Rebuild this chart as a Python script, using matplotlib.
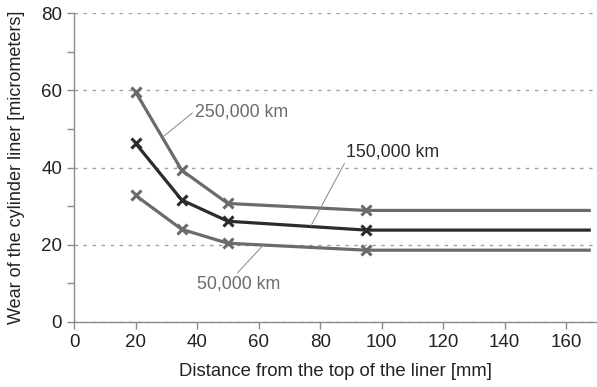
import numpy as np
import matplotlib.pyplot as plt

plt.rcParams['font.family'] = ['Liberation Sans', 'DejaVu Sans']

# distance from the top of the liner [mm]
distance = [20, 35, 50, 95]
line_end = 168

# wear [micrometers] for each mileage
wear_250k = [59.6, 39.3, 30.7, 28.9]
wear_150k = [46.3, 31.6, 26.1, 23.8]
wear_50k = [32.8, 24.0, 20.4, 18.6]

labels = ['250,000 km', '150,000 km', '50,000 km']
colors = ['#6b6b6b', '#2b2b2b', '#6b6b6b']

fig = plt.figure(figsize=(5.97, 3.87), dpi=100)
ax = fig.add_axes([0.124, 0.168, 0.876, 0.798])

for wear, col in zip([wear_250k, wear_150k, wear_50k], colors):
    # flat continuation to the end of the liner
    ax.plot(distance + [line_end], wear + [wear[-1]], color=col, lw=2.3,
            solid_capstyle='butt', zorder=3)
    ax.plot(distance, wear, ls='none', marker='x', ms=7, mew=2.2,
            color=col, zorder=4)

# labels with thin leader lines
leader = dict(arrowstyle='-', color='#888888', lw=0.7, shrinkA=0, shrinkB=0)
ax.annotate(labels[0], xy=(28.7, 47.8), xytext=(54.5, 54.3), color='#6b6b6b',
            fontsize=12.8, va='center', ha='center',
            arrowprops=dict(leader, relpos=(0, 0.6)))
ax.annotate(labels[1], xy=(77, 24.9), xytext=(103.5, 44), color='#2b2b2b',
            fontsize=12.8, va='center', ha='center',
            arrowprops=dict(leader, relpos=(0.02, 0.2)))
ax.annotate(labels[2], xy=(61.6, 20), xytext=(53.4, 9.8), color='#6b6b6b',
            fontsize=12.8, va='center', ha='center',
            arrowprops=dict(leader, relpos=(0.45, 0.95)))

ax.set_xlim(0, 170)
ax.set_ylim(0, 80)
ax.set_xticks(np.arange(0, 161, 20))
ax.set_yticks(np.arange(0, 81, 20))
ax.set_yticks(np.arange(10, 80, 20), minor=True)

ax.grid(axis='y', which='major', ls=(0, (2.5, 4)), color='#a0a0a0', lw=1)
ax.set_axisbelow(True)

for side in ['top', 'right']:
    ax.spines[side].set_visible(False)
for side in ['left', 'bottom']:
    ax.spines[side].set_color('#8a8a8a')
    ax.spines[side].set_linewidth(1)

ax.tick_params(axis='both', which='both', color='#8a8a8a', length=5,
               width=1, labelsize=13.5, labelcolor='#222222')

ax.set_xlabel('Distance from the top of the liner [mm]', fontsize=13.3,
              color='#222222', labelpad=9)
ax.set_ylabel('Wear of the cylinder liner [micrometers]', fontsize=13,
              color='#222222', labelpad=12)

plt.savefig('out.png', dpi=100)
